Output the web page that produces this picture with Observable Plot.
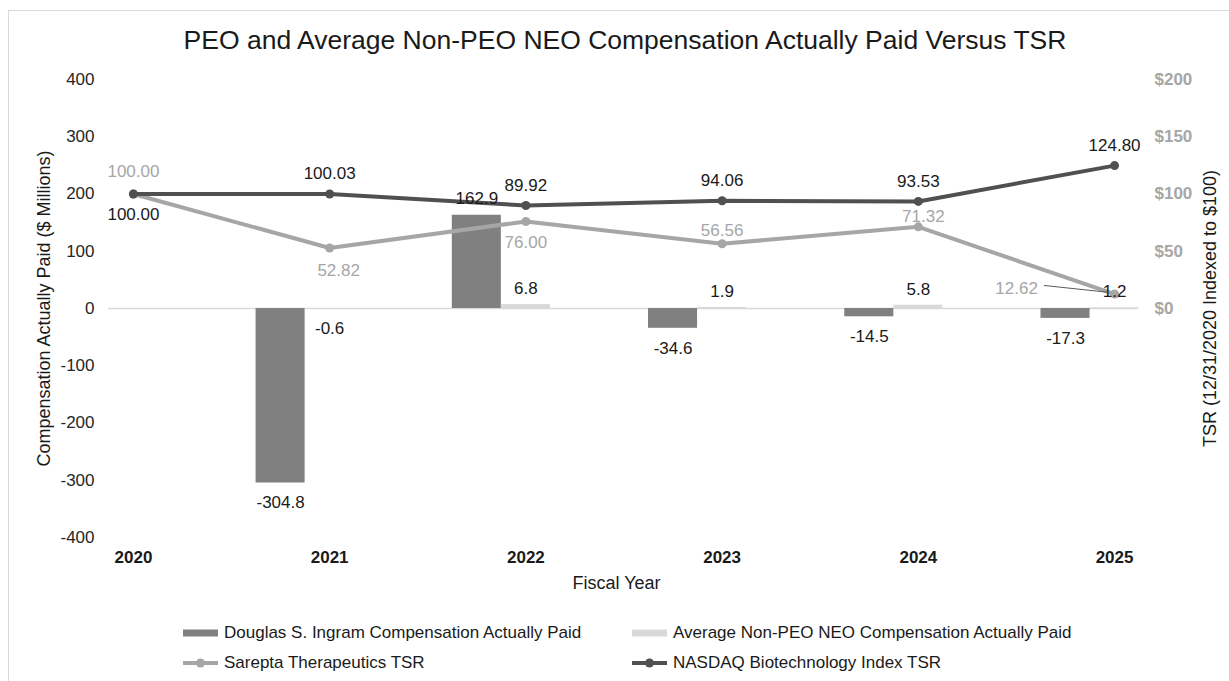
<!DOCTYPE html>
<html>
<head>
<meta charset="utf-8">
<script src="https://cdn.jsdelivr.net/npm/d3@7"></script>
<script src="https://cdn.jsdelivr.net/npm/@observablehq/plot@0.6"></script>
<style>
  body { margin: 0; background: #fff; font-family: "Liberation Sans", Arial, sans-serif; }
  #wrap { position: relative; width: 1229px; height: 681px; overflow: hidden; background: #fff; }
  #frame { position: absolute; left: 8px; top: 10px; width: 1260px; height: 720px; border: 1px solid #d9d9d9; }
  #title { position: absolute; left: 0; top: 24px; width: 1250px; text-align: center; font-size: 26.5px; line-height: 32px; color: #1a1a1a; white-space: nowrap; }
  #chart { position: absolute; left: 0; top: 60px; }
  .lg { position: absolute; display: flex; align-items: center; font-size: 17px; color: #1a1a1a; white-space: nowrap; height: 20px; }
  .lg svg { margin-right: 6px; }
</style>
</head>
<body>
<div id="wrap">
  <div id="frame"></div>
  <div id="title">PEO and Average Non-PEO NEO Compensation Actually Paid Versus TSR</div>
  <div id="chart"></div>
  <div id="legend"></div>
</div>
<script>
// ---- data ----
const years = [2020, 2021, 2022, 2023, 2024, 2025];
const peoCAP = [null, -304.8, 162.9, -34.6, -14.5, -17.3];      // Douglas S. Ingram CAP ($M)
const neoCAP = [null, -0.6, 6.8, 1.9, 5.8, 1.2];                // Average Non-PEO NEO CAP ($M)
const sareptaTSR = [100.00, 52.82, 76.00, 56.56, 71.32, 12.62];
const nasdaqTSR = [100.00, 100.03, 89.92, 94.06, 93.53, 124.80];
const leftTicks = [-400, -300, -200, -100, 0, 100, 200, 300, 400];
const rightTicks = [0, 50, 100, 150, 200];
const seriesNames = [
  "Douglas S. Ingram Compensation Actually Paid",
  "Average Non-PEO NEO Compensation Actually Paid",
  "Sarepta Therapeutics TSR",
  "NASDAQ Biotechnology Index TSR"
];
const title = "PEO and Average Non-PEO NEO Compensation Actually Paid Versus TSR";
const xTitle = "Fiscal Year";
const yLeftTitle = "Compensation Actually Paid ($ Millions)";
const yRightTitle = "TSR (12/31/2020 Indexed to $100)";

// ---- styles ----
const C_PEO = "#808080", C_NEO = "#d9d9d9", C_SRPT = "#a6a6a6", C_NBI = "#505050", C_TXT = "#1a1a1a";
const K = 2; // right axis ($0..$200) maps onto left axis (0..400)

const peoRows = years.map((year, i) => ({year, value: peoCAP[i], i})).filter(d => d.value != null);
const neoRows = years.map((year, i) => ({year, value: neoCAP[i], i})).filter(d => d.value != null);
const srptRows = years.map((year, i) => ({year, tsr: sareptaTSR[i], i}));
const nbiRows = years.map((year, i) => ({year, tsr: nasdaqTSR[i], i}));

const fmt1 = d => d.value.toFixed(1);
const fmt2 = d => d.tsr.toFixed(2);
const base = {fontSize: 17, lineAnchor: "middle"};

const srptPlacement = [
  {idx: [0], dx: 0, dy: -22},
  {idx: [1], dx: 9, dy: 23},
  {idx: [2], dx: 0, dy: 21},
  {idx: [3], dx: 0, dy: -13},
  {idx: [4], dx: 5, dy: -10},
  {idx: [5], dx: -98, dy: -6}
];

const plot = Plot.plot({
  width: 1229,
  height: 540,
  marginTop: 19,
  marginBottom: 63,
  marginLeft: 108,
  marginRight: 91,
  style: {fontFamily: "'Liberation Sans', Arial, sans-serif", fontSize: "17px", color: C_TXT, background: "transparent", overflow: "visible"},
  x: {domain: [2019.873, 2025.122], axis: null},
  y: {domain: [-400, 400], axis: null},
  marks: [
    Plot.ruleY([0], {stroke: "#d9d9d9", strokeWidth: 1.5}),
    Plot.axisY(leftTicks, {anchor: "left", tickSize: 0, tickPadding: 14, fontSize: 17, color: "#262626", tickFormat: d => String(d), label: null}),
    Plot.axisY(rightTicks.map(v => v * K), {anchor: "right", tickSize: 0, tickPadding: 16, fontSize: 17, fontWeight: "bold", color: C_SRPT, tickFormat: d => "$" + d / K, label: null}),
    Plot.axisX(years, {anchor: "bottom", tickSize: 0, tickPadding: 13, fontSize: 17, fontWeight: "bold", color: C_TXT, tickFormat: d => String(d), label: null}),
    Plot.text([yLeftTitle], {frameAnchor: "left", textAnchor: "middle", rotate: -90, dx: -64, fontSize: 18, fill: C_TXT}),
    Plot.text([yRightTitle], {frameAnchor: "right", textAnchor: "middle", rotate: -90, dx: 72, fontSize: 18, fill: C_TXT}),
    Plot.text([xTitle], {frameAnchor: "bottom", textAnchor: "middle", dx: -7, dy: 51, fontSize: 18, fill: C_TXT}),
    // bars
    Plot.rect(peoRows, {x1: d => d.year - 0.375, x2: d => d.year - 0.125, y1: 0, y2: "value", fill: C_PEO}),
    Plot.rect(neoRows, {x1: d => d.year - 0.125, x2: d => d.year + 0.125, y1: 0, y2: "value", fill: C_NEO}),
    // lines
    Plot.line(srptRows, {x: "year", y: d => d.tsr * K, stroke: C_SRPT, strokeWidth: 4}),
    Plot.dot(srptRows, {x: "year", y: d => d.tsr * K, r: 4.5, fill: C_SRPT}),
    Plot.line(nbiRows, {x: "year", y: d => d.tsr * K, stroke: C_NBI, strokeWidth: 4}),
    Plot.dot(nbiRows, {x: "year", y: d => d.tsr * K, r: 4.5, fill: C_NBI}),
    // bar labels
    Plot.text(peoRows.filter(d => d.value >= 0), {...base, x: d => d.year - 0.25, y: "value", text: fmt1, dy: -17, fill: C_TXT}),
    Plot.text(peoRows.filter(d => d.value < 0), {...base, x: d => d.year - 0.25, y: "value", text: fmt1, dy: 20, fill: C_TXT}),
    Plot.text(neoRows.filter(d => d.value >= 0), {...base, x: "year", y: "value", text: fmt1, dy: -16, fill: C_TXT}),
    Plot.text(neoRows.filter(d => d.value < 0), {...base, x: "year", y: "value", text: fmt1, dy: 20, fill: C_TXT}),
    // NASDAQ labels
    Plot.text(nbiRows.filter(d => d.i > 0), {...base, x: "year", y: d => d.tsr * K, text: fmt2, dy: -20, fill: C_TXT}),
    Plot.text(nbiRows.filter(d => d.i === 0), {...base, x: "year", y: d => d.tsr * K, text: fmt2, dy: 21, fill: C_TXT}),
    // Sarepta labels
    ...srptPlacement.map(p => Plot.text(srptRows.filter(d => p.idx.includes(d.i)), {...base, x: "year", y: d => d.tsr * K, text: fmt2, dx: p.dx, dy: p.dy, fill: C_SRPT})),
    // leader line for last Sarepta label
    Plot.link(srptRows.filter(d => d.i === 5), {x1: d => d.year - 0.36, y1: d => d.tsr * K + 15, x2: d => d.year - 0.03, y2: d => d.tsr * K + 3, stroke: "#595959", strokeWidth: 1})
  ]
});
document.getElementById("chart").appendChild(plot);

// ---- legend (HTML) ----
const legendItems = [
  {name: seriesNames[0], kind: "bar", color: C_PEO, left: 183, top: 623},
  {name: seriesNames[1], kind: "bar", color: C_NEO, left: 632, top: 623},
  {name: seriesNames[2], kind: "line", color: C_SRPT, left: 183, top: 653},
  {name: seriesNames[3], kind: "line", color: C_NBI, left: 632, top: 653}
];
const lg = document.getElementById("legend");
for (const it of legendItems) {
  const div = document.createElement("div");
  div.className = "lg";
  div.style.left = it.left + "px";
  div.style.top = it.top + "px";
  const sw = it.kind === "bar"
    ? `<svg width="35" height="12"><rect x="0" y="2.5" width="35" height="7" fill="${it.color}"/></svg>`
    : `<svg width="35" height="12"><line x1="0" x2="35" y1="6" y2="6" stroke="${it.color}" stroke-width="4"/><circle cx="17.5" cy="6" r="4.5" fill="${it.color}"/></svg>`;
  div.innerHTML = sw + `<span>${it.name}</span>`;
  lg.appendChild(div);
}
document.getElementById("title").textContent = title;
</script>
</body>
</html>
